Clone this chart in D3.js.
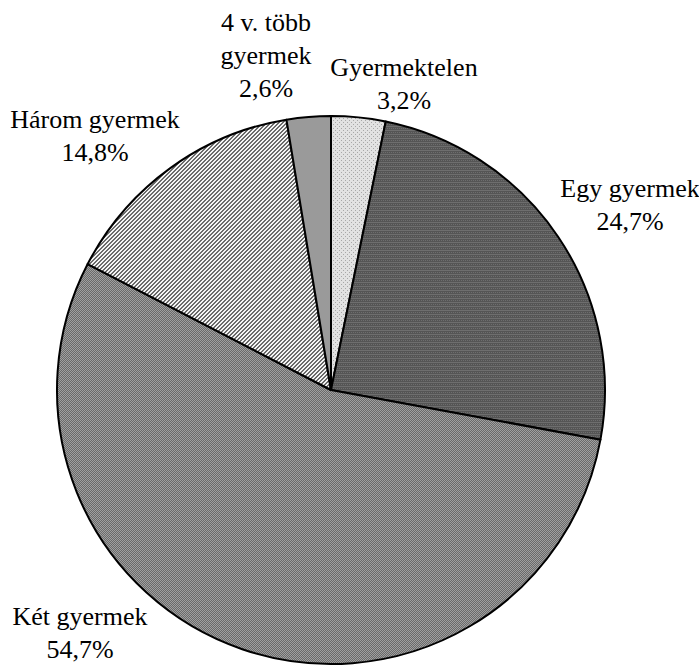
<meta charset="utf-8">
<style>
	body { margin: 0; background: #fff; }
</style>
<svg width="699" height="666" class="chart"></svg>
<script src="https://cdn.jsdelivr.net/npm/d3@7"></script>
<script>
	// slices clockwise from 12 o'clock
	var categories = ["Gyermektelen", "Egy gyermek", "Két gyermek", "Három gyermek", "4 v. több gyermek"];
	var values = [3.2, 24.7, 54.7, 14.8, 2.6];
	var valueLabels = ["3,2%", "24,7%", "54,7%", "14,8%", "2,6%"];
	var labelLines = [["Gyermektelen"], ["Egy gyermek"], ["Két gyermek"], ["Három gyermek"], ["4 v. több", "gyermek"]];

	var svg = d3.select("svg"),
		cx = 331, cy = 390, radius = 274;

	var defs = svg.append("defs");

	// fill patterns, one per slice
	function pat(id, size, bg, cells, fg)
	{
		var p = defs.append("pattern")
			.attr("id", id)
			.attr("width", size).attr("height", size)
			.attr("patternUnits", "userSpaceOnUse");
		p.append("rect").attr("width", size).attr("height", size).attr("fill", bg);
		cells.forEach(function(c) {
			p.append("rect").attr("x", c[0]).attr("y", c[1]).attr("width", 1).attr("height", 1).attr("fill", fg);
		});
	}
	pat("p0", 4, "#e2e2e2", [[0,0],[2,2]], "#a8a8a8");
	pat("p1", 4, "#555555", [[0,0],[1,0],[2,0],[3,0],[0,2],[2,2]], "#6e6e6e");
	pat("p2", 2, "#a0a0a0", [[0,0],[1,1]], "#6a6a6a");
	pat("p3", 4, "#f4f4f4", [[0,3],[1,2],[2,1],[3,0],[0,0],[1,3],[2,2],[3,1]], "#6a6a6a");
	defs.append("pattern").attr("id", "p4").attr("width", 2).attr("height", 2)
		.attr("patternUnits", "userSpaceOnUse")
		.append("rect").attr("width", 2).attr("height", 2).attr("fill", "#9a9a9a");

	var pie = d3.pie().sort(null).value(function(d) { return d; });
	var arc = d3.arc().innerRadius(0).outerRadius(radius);
	var arcs = pie(values);

	var g = svg.append("g").attr("transform", "translate(" + cx + "," + cy + ")");

	g.selectAll("path.slice")
		.data(arcs)
		.enter().append("path")
		.attr("class", "slice")
		.attr("d", arc)
		.attr("fill", function(d, i) { return "url(#p" + i + ")"; })
		.attr("stroke", "#000")
		.attr("stroke-width", 2)
		.attr("stroke-linejoin", "round");

	// label anchor points (centre x, first baseline y), placed outside the pie as in the original
	var labelPos = [[404, 76], [630, 197], [80, 625], [95, 128], [266, 31]];
	var lineH = 33;

	var labels = svg.selectAll("text.lbl")
		.data(categories)
		.enter().append("text")
		.attr("class", "lbl")
		.attr("font-family", "Liberation Serif")
		.attr("font-size", 26)
		.attr("fill", "#000")
		.attr("text-anchor", "middle");

	labels.each(function(d, i) {
		var t = d3.select(this);
		var lines = labelLines[i].concat([valueLabels[i]]);
		lines.forEach(function(s, k) {
			t.append("tspan")
				.attr("x", labelPos[i][0])
				.attr("y", labelPos[i][1] + k * lineH)
				.text(s);
		});
	});
</script>
